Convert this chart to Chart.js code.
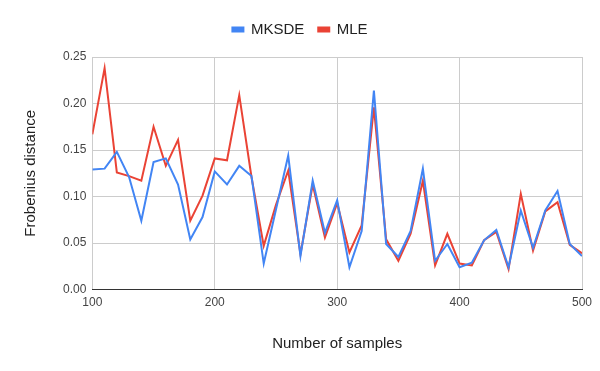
<!DOCTYPE html>
<html>
<head>
<meta charset="utf-8">
<script src="https://cdn.jsdelivr.net/npm/chart.js@4"></script>
<style>
  html, body { margin: 0; padding: 0; background: #fff; }
  #wrap { width: 600px; height: 371px; }
</style>
</head>
<body>
<div id="wrap"><canvas id="myChart"></canvas></div>
<script>
const samples = [100,110,120,130,140,150,160,170,180,190,200,210,220,230,240,250,260,270,280,290,300,
                 310,320,330,340,350,360,370,380,390,400,410,420,430,440,450,460,470,480,490,500];
const mksde = [0.129,0.130,0.148,0.121,0.074,0.137,0.141,0.113,0.054,0.078,0.127,0.113,0.133,0.122,0.028,
               0.086,0.144,0.036,0.117,0.061,0.096,0.024,0.063,0.214,0.049,0.035,0.063,0.130,0.031,0.049,
               0.024,0.029,0.053,0.064,0.024,0.085,0.045,0.085,0.106,0.049,0.036];
const mle = [0.167,0.238,0.126,0.122,0.117,0.175,0.133,0.161,0.074,0.101,0.141,0.139,0.209,0.121,0.047,
             0.091,0.128,0.038,0.113,0.056,0.093,0.040,0.069,0.196,0.054,0.031,0.060,0.117,0.026,0.060,
             0.028,0.026,0.053,0.062,0.022,0.103,0.042,0.084,0.094,0.048,0.039];

const toPoints = vals => samples.map((s, i) => ({ x: s, y: vals[i] }));

Chart.defaults.font.family = "'Liberation Sans', Arial, sans-serif";
Chart.defaults.color = '#444';

// extra gap under the legend
const legendGap = {
    id: 'legendGap',
    beforeInit(chart) {
        const fit = chart.legend.fit;
        chart.legend.fit = function () {
            fit.bind(chart.legend)();
            this.height += 10;
        };
    }
};

const ctx = document.getElementById('myChart').getContext('2d');
const myChart = new Chart(ctx, {
    type: 'line',
    data: {
        datasets: [{
            label: 'MKSDE',
            data: toPoints(mksde),
            borderColor: '#4285f4',
            backgroundColor: '#4285f4',
            borderWidth: 2,
            pointRadius: 0,
            tension: 0
        }, {
            label: 'MLE',
            data: toPoints(mle),
            borderColor: '#ea4335',
            backgroundColor: '#ea4335',
            borderWidth: 2,
            pointRadius: 0,
            tension: 0
        }]
    },
    options: {
        responsive: true,
        maintainAspectRatio: false,
        animation: false,
        layout: { padding: { left: 18, right: 18, top: 8, bottom: 14 } },
        plugins: {
            legend: {
                position: 'top',
                labels: {
                    boxWidth: 11,
                    boxHeight: 4,
                    font: { size: 15 },
                    color: '#222',
                    padding: 14
                }
            },
            tooltip: { enabled: false }
        },
        scales: {
            x: {
                type: 'linear',
                min: 100,
                max: 500,
                ticks: { stepSize: 100, font: { size: 12 }, padding: 6 },
                grid: { color: '#cccccc', drawTicks: false },
                border: { color: '#333', width: 1 },
                title: { display: true, text: 'Number of samples', font: { size: 15 }, color: '#222', padding: { top: 19 } }
            },
            y: {
                min: 0,
                max: 0.25,
                ticks: {
                    stepSize: 0.05,
                    font: { size: 12 },
                    padding: 6,
                    callback: v => v.toFixed(2)
                },
                grid: { color: '#cccccc', drawTicks: false },
                border: { display: false },
                title: { display: true, text: 'Frobenius distance', font: { size: 15 }, color: '#222', padding: { bottom: 17 } }
            }
        }
    },
    plugins: [legendGap]
});
</script>
</body>
</html>
